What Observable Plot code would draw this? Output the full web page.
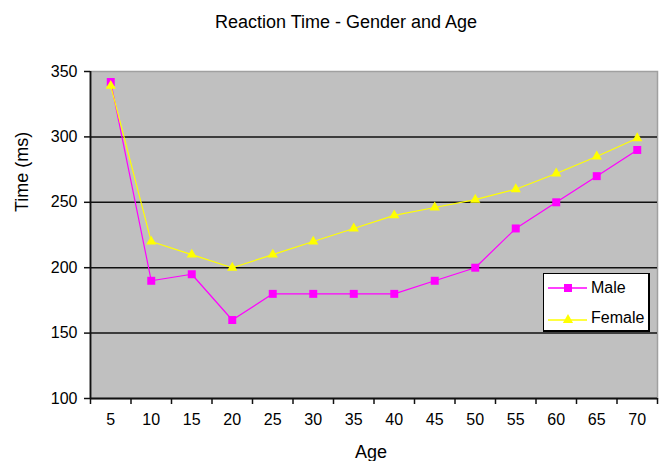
<!DOCTYPE html>
<html><head><meta charset="utf-8">
<script src="https://cdn.jsdelivr.net/npm/d3@7"></script>
<script src="https://cdn.jsdelivr.net/npm/@observablehq/plot@0.6"></script>
<style>
body{margin:0;background:#fff;font-family:"Liberation Sans",Arial,sans-serif;}
#wrap{position:relative;width:662px;height:461px;overflow:hidden;}
#title{height:42px;line-height:44px;font-size:18px;text-align:center;padding-left:30px;box-sizing:border-box;width:662px;white-space:pre;color:#000;}
#legend{position:absolute;left:543px;top:273px;width:107px;height:59px;border:1px solid #000;border-right-width:2px;border-bottom-width:2px;background:#fff;box-sizing:border-box;}
#legend svg{position:absolute;left:0;top:0;}
</style></head>
<body><div id="wrap"><div id="title"></div><div id="chart"></div><div id="legend"></div></div>
<script>
const titleText = "Reaction Time - Gender and Age";
const xLabel = "Age";
const yLabel = "Time (ms)";
const ages = [5, 10, 15, 20, 25, 30, 35, 40, 45, 50, 55, 60, 65, 70];
const male = [342, 190, 195, 160, 180, 180, 180, 180, 190, 200, 230, 250, 270, 290];
const female = [339, 220, 210, 200, 210, 220, 230, 240, 246, 252, 260, 272, 285, 299];
const seriesNames = ["Male", "Female"];
const seriesColors = ["#ff00ff", "#ffff00"];
const seriesSymbols = ["square", "triangle"];
const yTicks = [100, 150, 200, 250, 300, 350];
const gridTicks = [150, 200, 250, 300];

const rows = [];
ages.forEach((a, i) => {
  rows.push({age: a, time: male[i], series: "Male"});
  rows.push({age: a, time: female[i], series: "Female"});
});
const step = ages[1] - ages[0];
const xDomain = [ages[0] - step / 2, ages[ages.length - 1] + step / 2];
const boundaries = [xDomain[0], ...ages.map(a => a + step / 2)];

document.getElementById("title").textContent = titleText;

const seriesMarks = [];
seriesNames.forEach((name, k) => {
  seriesMarks.push(Plot.line(rows, {filter: d => d.series === name, x: "age", y: "time", stroke: seriesColors[k], strokeWidth: 1.2}));
  seriesMarks.push(Plot.dot(rows, {filter: d => d.series === name, x: "age", y: "time", fill: seriesColors[k], stroke: "none", symbol: seriesSymbols[k], r: seriesSymbols[k] === "square" ? 4.5 : 3.8}));
});

const plot = Plot.plot({
  width: 662, height: 419,
  marginTop: 29, marginBottom: 63, marginLeft: 90, marginRight: 5,
  style: {fontFamily: "'Liberation Sans', Arial, sans-serif", fontSize: "16px", color: "#000", background: "transparent", overflow: "visible"},
  x: {domain: xDomain},
  y: {domain: [yTicks[0], yTicks[yTicks.length - 1]]},
  marks: [
    Plot.frame({fill: "#c0c0c0", stroke: "#a0a0a0", strokeWidth: 1.5}),
    Plot.ruleY(gridTicks, {stroke: "#111", strokeWidth: 1.5}),
    Plot.ruleY([yTicks[0]], {stroke: "#111", strokeWidth: 1.8}),
    Plot.ruleX([xDomain[0]], {stroke: "#111", strokeWidth: 1.8}),
    Plot.axisY({ticks: yTicks, tickSize: 6, tickPadding: 7, label: null, stroke: "#111", strokeWidth: 1.5, fontSize: 16}),
    Plot.axisX({ticks: boundaries, tickSize: 6, tickFormat: () => "", label: null, stroke: "#111", strokeWidth: 1.5}),
    Plot.axisX({ticks: ages, tickSize: 0, tickPadding: 15, label: null, fontSize: 16}),
    ...seriesMarks,
    Plot.text([xLabel], {text: d => d, frameAnchor: "bottom", lineAnchor: "top", dy: 47, dx: -3, fontSize: 18}),
    Plot.text([yLabel], {text: d => d, frameAnchor: "left", rotate: -90, dx: -68, dy: -23, fontSize: 18})
  ]
});
document.getElementById("chart").appendChild(plot);

// legend
const ns = "http://www.w3.org/2000/svg";
const lsvg = document.createElementNS(ns, "svg");
lsvg.setAttribute("width", 105);
lsvg.setAttribute("height", 57);
const lineYs = [14, 46];
const textYs = [19, 49];
seriesNames.forEach((name, k) => {
  const ln = document.createElementNS(ns, "line");
  ln.setAttribute("x1", 4); ln.setAttribute("x2", 43);
  ln.setAttribute("y1", lineYs[k]); ln.setAttribute("y2", lineYs[k]);
  ln.setAttribute("stroke", seriesColors[k]); ln.setAttribute("stroke-width", 1.5);
  lsvg.appendChild(ln);
  const p = document.createElementNS(ns, "path");
  const sym = seriesSymbols[k] === "square" ? d3.symbolSquare : d3.symbolTriangle;
  const size = seriesSymbols[k] === "square" ? 64 : 45;
  p.setAttribute("d", d3.symbol(sym, size)());
  p.setAttribute("transform", `translate(24,${lineYs[k]})`);
  p.setAttribute("fill", seriesColors[k]);
  lsvg.appendChild(p);
  const t = document.createElementNS(ns, "text");
  t.setAttribute("x", 47); t.setAttribute("y", textYs[k]);
  t.setAttribute("font-size", 16);
  t.setAttribute("font-family", "'Liberation Sans', Arial, sans-serif");
  t.textContent = name;
  lsvg.appendChild(t);
});
document.getElementById("legend").appendChild(lsvg);
</script>
</body></html>
